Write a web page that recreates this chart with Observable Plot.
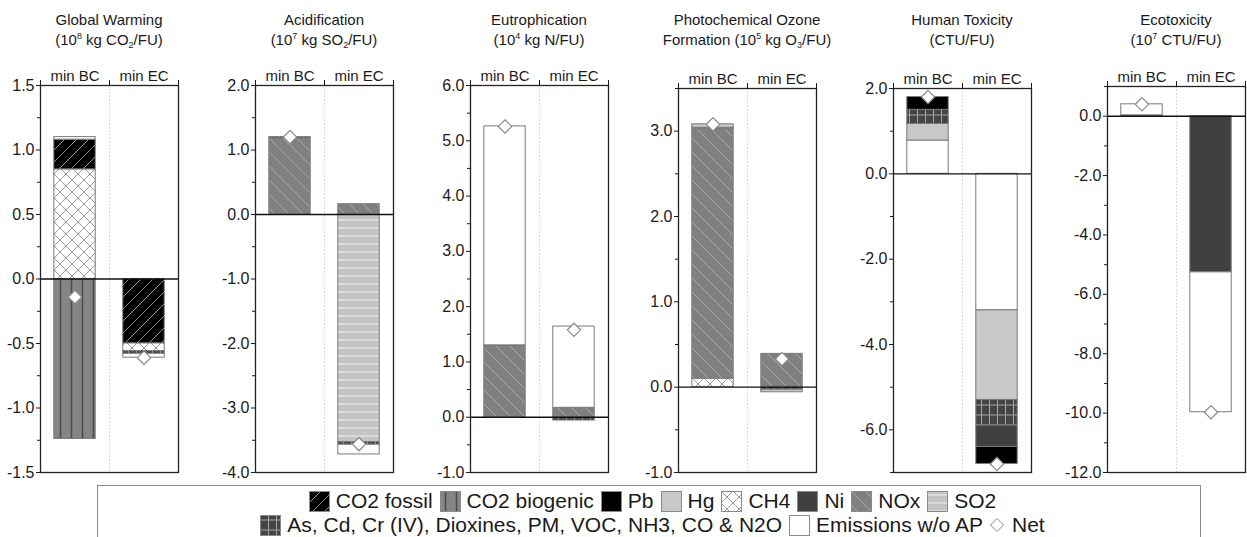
<!DOCTYPE html>
<html><head><meta charset="utf-8">
<script src="https://cdn.jsdelivr.net/npm/d3@7"></script>
<script src="https://cdn.jsdelivr.net/npm/@observablehq/plot@0.6"></script>
<style>
html,body{margin:0;padding:0;background:#fff;overflow:hidden}
body{font-family:Arial,"Liberation Sans",sans-serif;color:#1a1a1a}
#chart{position:relative;width:1247px;height:537px;overflow:hidden}
.panel{position:absolute;top:0;width:182px;height:480px}
.panel svg{position:absolute;left:0;top:0}
.title{position:absolute;top:10px;left:-1px;width:220px;text-align:center;font-size:15px;line-height:20px;white-space:nowrap}
.title sup{font-size:9px;vertical-align:6px;line-height:0}
.title sub{font-size:9px;vertical-align:-3px;line-height:0}
.legend{position:absolute;left:97px;top:485px;width:1104px;height:70px;border:1px solid #8a8a8a;box-sizing:border-box;font-size:21px}
.row{position:absolute;left:0;right:0;display:flex;justify-content:center;align-items:center;height:24px;white-space:nowrap}
.row svg{margin:0 6px 0 7px;flex:none}
</style></head>
<body>
<svg width="0" height="0" style="position:absolute">
<defs>
<pattern id="pCO2f" patternUnits="userSpaceOnUse" width="12" height="12">
 <rect width="12" height="12" fill="#000"/>
 <path d="M0,12 L12,0 M-3,3 L3,-3 M9,15 L15,9" stroke="#8c8c8c" stroke-width="1"/>
</pattern>
<pattern id="pCO2b" patternUnits="userSpaceOnUse" width="11" height="10">
 <rect width="11" height="10" fill="#858585"/>
 <path d="M5.5,0 V10" stroke="#4a4a4a" stroke-width="1.5"/>
</pattern>
<pattern id="pCH4" patternUnits="userSpaceOnUse" width="12" height="12">
 <rect width="12" height="12" fill="#fff"/>
 <path d="M0,0 L12,12 M0,12 L12,0" stroke="#9a9a9a" stroke-width="1"/>
</pattern>
<pattern id="pNOx" patternUnits="userSpaceOnUse" width="14" height="14">
 <rect width="14" height="14" fill="#808080"/>
 <path d="M0,0 L14,14 M-3,11 L3,17 M11,-3 L17,3" stroke="#a8a8a8" stroke-width="1"/>
</pattern>
<pattern id="pSO2" patternUnits="userSpaceOnUse" width="8" height="8">
 <rect width="8" height="8" fill="#c4c4c4"/>
 <path d="M0,4 H8" stroke="#ececec" stroke-width="1.2"/>
</pattern>
<pattern id="pAs" patternUnits="userSpaceOnUse" width="8" height="10">
 <rect width="8" height="10" fill="#444"/>
 <path d="M0.5,0 V10 M0,5 H8" stroke="#a5a5a5" stroke-width="1"/>
</pattern>
</defs>
</svg>
<div id="chart"></div>
<script>
// ---- data ----
const categories = ["CO2 fossil","CO2 biogenic","Pb","Hg","CH4","Ni","NOx","SO2",
  "As, Cd, Cr (IV), Dioxines, PM, VOC, NH3, CO & N2O","Emissions w/o AP"];
const AS = categories[8], EW = categories[9];
const scenarios = ["min BC","min EC"];

// Global Warming (10^8 kg CO2/FU)
const gwBC = [["CH4",0.85],["CO2 fossil",0.23],[EW,0.02],["CO2 biogenic",-1.24]];
const gwEC = [["CO2 fossil",-0.50],["CH4",-0.06],[AS,-0.02],[EW,-0.03]];
const gwTicks = [-1.5,-1.0,-0.5,0,0.5,1.0,1.5];
// Acidification (10^7 kg SO2/FU)
const acBC = [["NOx",1.18],[AS,0.02]];
const acEC = [["NOx",0.16],["SO2",-3.53],[AS,-0.04],[EW,-0.15]];
const acTicks = [-4,-3,-2,-1,0,1,2];
// Eutrophication (10^4 kg N/FU)
const euBC = [["NOx",1.29],[AS,0.01],[EW,3.96]];
const euEC = [["NOx",0.17],[EW,1.47],[AS,-0.06]];
const euTicks = [-1,0,1,2,3,4,5,6];
// Photochemical Ozone Formation (10^5 kg O3/FU)
const poBC = [["CH4",0.10],["NOx",2.93],[AS,0.01],["Hg",0.04]];
const poEC = [["NOx",0.39],[AS,-0.03],["Hg",-0.03]];
const poTicks = [-1,0,1,2,3];
// Human Toxicity (CTU/FU)
const htBC = [[EW,0.78],["Hg",0.39],[AS,0.33],["Pb",0.30]];
const htEC = [[EW,-3.2],["Hg",-2.1],[AS,-0.6],["Ni",-0.5],["Pb",-0.4]];
const htTicks = [-6,-4,-2,0,2];
// Ecotoxicity (10^7 CTU/FU)
const ecBC = [[AS,0.03],[EW,0.37]];
const ecEC = [["Ni",-5.26],[EW,-4.71]];
const ecTicks = [-12,-10,-8,-6,-4,-2,0];

const fills = ["url(#pCO2f)","url(#pCO2b)","#000","#c9c9c9","url(#pCH4)","#404040","url(#pNOx)","url(#pSO2)","url(#pAs)","#fff"];

const panels = [
  {title:'Global Warming<br>(10<sup>8</sup> kg CO<sub>2</sub>/FU)', domain:[-1.5,1.5], step:0.5, ticks:gwTicks, bars:[gwBC,gwEC], left:40, top:85},
  {title:'Acidification<br>(10<sup>7</sup> kg SO<sub>2</sub>/FU)', domain:[-4,2], step:1, ticks:acTicks, bars:[acBC,acEC], left:255, top:85},
  {title:'Eutrophication<br>(10<sup>4</sup> kg N/FU)', domain:[-1,6], step:1, ticks:euTicks, bars:[euBC,euEC], left:470, top:85},
  {title:'Photochemical Ozone<br>Formation (10<sup>5</sup> kg O<sub>3</sub>/FU)', domain:[-1,3.5], step:1, ticks:poTicks, bars:[poBC,poEC], left:678, top:88},
  {title:'Human Toxicity<br>(CTU/FU)', domain:[-7,2], step:2, ticks:htTicks, bars:[htBC,htEC], left:893, top:88},
  {title:'Ecotoxicity<br>(10<sup>7</sup> CTU/FU)', domain:[-12,1], step:2, ticks:ecTicks, bars:[ecBC,ecEC], left:1107, top:86}
];

function stackRows(bars){
  const rows = [], nets = [];
  bars.forEach((bar, i) => {
    let pos = 0, neg = 0;
    for (const [cat, v] of bar) {
      if (v >= 0) { rows.push({cat, i, y1: pos, y2: pos + v}); pos += v; }
      else { rows.push({cat, i, y1: neg, y2: neg + v}); neg += v; }
    }
    nets.push({i, net: pos + neg});
  });
  return {rows, nets};
}

const chart = document.getElementById("chart");
const FONT = 'Arial,"Liberation Sans",sans-serif';

for (const p of panels) {
  const {rows, nets} = stackRows(p.bars);
  const half = p.step / 2;
  const minor = d3.range(Math.ceil(p.domain[0] / half), Math.floor(p.domain[1] / half) + 1)
    .map(k => k * half).filter(v => !p.ticks.some(t => Math.abs(t - v) < 1e-9));
  const svg = Plot.plot({
    width: 182, height: 480, marginTop: p.top, marginBottom: 8, marginLeft: 40, marginRight: 4,
    x: {domain: [0, 2]},
    y: {domain: p.domain},
    color: {domain: categories, range: fills},
    style: {fontFamily: FONT, fontSize: "15px", color: "#1a1a1a", background: "transparent", overflow: "visible"},
    marks: [
      Plot.ruleX([1], {stroke: "#cfcfcf", strokeDasharray: "1.5,2"}),
      Plot.rect(rows, {x1: d => d.i + 0.2, x2: d => d.i + 0.8, y1: "y1", y2: "y2", fill: "cat", stroke: "#7a7a7a", strokeWidth: 1}),
      Plot.ruleY([0], {stroke: "#111", strokeWidth: 1.4}),
      Plot.frame({stroke: "#222", strokeWidth: 1.3}),
      Plot.axisY({ticks: p.ticks, tickSize: 4, tickPadding: 2, tickFormat: d => d.toFixed(1), fontSize: 16, label: null}),
      Plot.axisY({ticks: minor, tickSize: 3, tickFormat: () => "", label: null}),
      Plot.axisX({anchor: "top", ticks: [0, 1, 2], tickSize: 6, tickFormat: () => "", label: null}),
      Plot.text(scenarios, {x: (d, i) => i + 0.5, frameAnchor: "top", dy: -15, text: d => d, fontSize: 15}),
      Plot.dot(nets, {x: d => d.i + 0.5, y: "net", symbol: "diamond2", r: 6, fill: "white", stroke: "#8a8a8a", strokeWidth: 1.2})
    ]
  });
  const div = document.createElement("div");
  div.className = "panel";
  div.style.left = (p.left - 40) + "px";
  div.appendChild(svg);
  const t = document.createElement("div");
  t.className = "title";
  t.innerHTML = p.title;
  div.appendChild(t);
  chart.appendChild(div);
}

// legend
const legend = document.createElement("div");
legend.className = "legend";
function swatch(fill){
  return `<svg width="21" height="21"><rect x="0.5" y="0.5" width="20" height="20" fill="${fill}" stroke="#8a8a8a"/></svg>`;
}
const row1 = categories.slice(0, 8).map((c, k) => swatch(fills[k]) + `<span>${c}</span>`).join("");
const row2 = [8, 9].map(k => swatch(fills[k]) + `<span>${categories[k].replace("&","&amp;")}</span>`).join("")
  + `<svg width="16" height="16" style="margin:0 7px 0 6px"><path d="M8,1.5 L14.5,8 L8,14.5 L1.5,8Z" fill="#fff" stroke="#8a8a8a"/></svg><span>Net</span>`;
legend.innerHTML = `<div class="row" style="top:3px">${row1}</div><div class="row" style="top:27px">${row2}</div>`;
chart.appendChild(legend);
</script>
</body></html>
